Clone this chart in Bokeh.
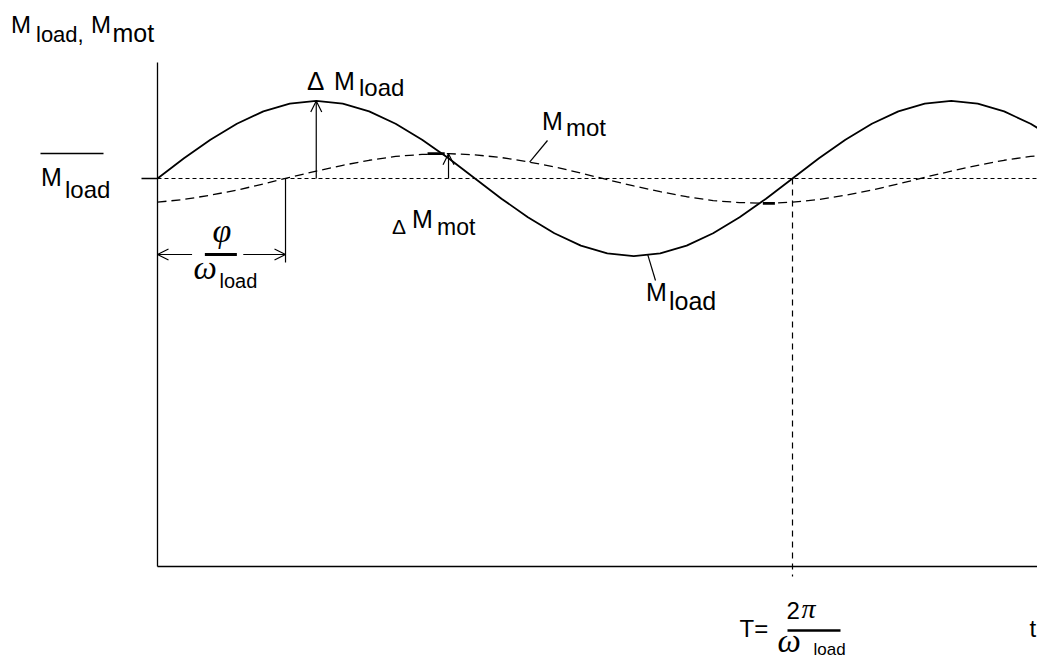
import numpy as np
from bokeh.plotting import figure
from bokeh.models import Range1d, Label, Arrow, OpenHead
from bokeh.embed import file_html
from bokeh.resources import INLINE

# ---------------- data ----------------
# time axis in units of the load period T = 2*pi/omega_load
t = [0.0, 0.0417, 0.0833, 0.125, 0.1667, 0.2083, 0.25, 0.2917, 0.3333, 0.375,
     0.4167, 0.4583, 0.5, 0.5417, 0.5833, 0.625, 0.6667, 0.7083, 0.75, 0.7917,
     0.8333, 0.875, 0.9167, 0.9583, 1.0, 1.0417, 1.0833, 1.125, 1.1667, 1.2083,
     1.25, 1.2917, 1.3333, 1.375, 1.4167]
# load torque (mean value = 1)
m_load = [1.000, 1.052, 1.100, 1.141, 1.173, 1.193, 1.200, 1.193, 1.173, 1.141,
          1.100, 1.052, 1.000, 0.948, 0.900, 0.859, 0.827, 0.807, 0.800, 0.807,
          0.827, 0.859, 0.900, 0.948, 1.000, 1.052, 1.100, 1.141, 1.173, 1.193,
          1.200, 1.193, 1.173, 1.141, 1.100]
# motor torque
m_mot = [0.939, 0.946, 0.957, 0.970, 0.986, 1.003, 1.019, 1.034, 1.047, 1.057,
         1.062, 1.064, 1.061, 1.054, 1.043, 1.030, 1.014, 0.997, 0.981, 0.966,
         0.953, 0.943, 0.938, 0.936, 0.939, 0.946, 0.957, 0.970, 0.986, 1.003,
         1.019, 1.034, 1.047, 1.057, 1.062]
m_mean = 1.0          # mean load torque
period = 1.0          # T
phase_lag = 0.2016    # phi / omega_load

# ---------------- layout ----------------
W, H = 1037, 662
X0, Y0 = 157, 566      # canvas position of the origin
XS, YS = 635.0, 388.0  # pixels per period / per unit torque
BASE_FIX = 0.38        # baseline correction (fraction of font size)


def X(px):
    return (px - X0) / XS


def Y(py):
    return (Y0 - py) / YS


p = figure(width=W, height=H, output_backend="svg", toolbar_location=None,
           x_range=Range1d(X(0), X(W)), y_range=Range1d(Y(H), Y(0)),
           x_axis_location=None, y_axis_location=None, min_border=0)
p.outline_line_color = None
p.grid.visible = False
p.background_fill_color = "white"
p.border_fill_color = "white"

x_end = X(W)
y_top = Y(62)

# axes
p.segment(x0=[0, 0, X(141)], y0=[0, 0, m_mean], x1=[0, x_end, 0], y1=[y_top, 0, m_mean],
          line_color="black", line_width=1.3)

# mean value line
p.segment(x0=[0], y0=[m_mean], x1=[x_end], y1=[m_mean], line_color="black",
          line_width=1.1, line_dash="4 3")

# curves
p.line(t, m_mot, line_color="black", line_width=1.3, line_dash="9 5")
p.line(t, m_load, line_color="black", line_width=1.8)

tt = np.array(t)
ml = np.array(m_load)
mm = np.array(m_mot)

# small bold strokes on M_mot near its extremes
i_max = int(np.argmax(mm[:24]))
i_min = int(np.argmin(mm[:26]))
p.segment(x0=[tt[i_max] - 0.033, tt[i_min] - 0.005], y0=[mm[i_max], mm[i_min]],
          x1=[tt[i_max] - 0.006, tt[i_min] + 0.014], y1=[mm[i_max], mm[i_min]],
          line_color="black", line_width=2.6)

# period line T
p.segment(x0=[period], y0=[m_mean], x1=[period], y1=[Y(576)], line_color="black",
          line_width=1.2, line_dash="6 5")

# Delta M_load arrow
i_pk = int(np.argmax(ml[:24]))
p.add_layout(Arrow(end=OpenHead(size=11, line_width=1.2, line_color="black"),
                   x_start=tt[i_pk], y_start=m_mean, x_end=tt[i_pk], y_end=ml[i_pk],
                   line_width=1.2, line_color="black"))
# Delta M_mot arrow
p.add_layout(Arrow(end=OpenHead(size=11, line_width=1.2, line_color="black"),
                   x_start=tt[i_max], y_start=m_mean, x_end=tt[i_max], y_end=mm[i_max],
                   line_width=1.2, line_color="black"))

# phi / omega dimension
y_dim = Y(254)
p.segment(x0=[phase_lag], y0=[m_mean], x1=[phase_lag], y1=[Y(262)],
          line_color="black", line_width=1.2)
p.add_layout(Arrow(start=OpenHead(size=11, line_width=1.2, line_color="black"), end=None,
                   x_start=0, y_start=y_dim, x_end=phase_lag * 0.27, y_end=y_dim,
                   line_width=1.2, line_color="black"))
p.add_layout(Arrow(end=OpenHead(size=11, line_width=1.2, line_color="black"), start=None,
                   x_start=phase_lag * 0.67, y_start=y_dim, x_end=phase_lag, y_end=y_dim,
                   line_width=1.2, line_color="black"))
p.segment(x0=[phase_lag * 0.37], y0=[y_dim], x1=[phase_lag * 0.62], y1=[y_dim],
          line_width=3, line_color="black")

# leader lines
t_lm = 0.586
p.segment(x0=[t_lm], y0=[float(np.interp(t_lm, tt, mm))], x1=[X(547)], y1=[Y(140)],
          line_color="black", line_width=1.2)
t_ll = 0.772
p.segment(x0=[t_ll], y0=[float(np.interp(t_ll, tt, ml))], x1=[X(655)], y1=[Y(280)],
          line_color="black", line_width=1.2)

# overbar of mean label and fraction bar of T
p.segment(x0=[X(40)], y0=[Y(153)], x1=[X(103)], y1=[Y(153)],
          line_width=1.3, line_color="black")
p.segment(x0=[X(787)], y0=[Y(630)], x1=[X(840)], y1=[Y(630)],
          line_width=2.4, line_color="black")

# ---------------- texts ----------------
SANS = "Liberation Sans"
SERIF = "Liberation Serif"
texts = [
    ("M", 10.5, 33, 24, SANS, "normal"),
    ("load,", 35.5, 42, 22, SANS, "normal"),
    ("M", 90.5, 33, 24, SANS, "normal"),
    ("mot", 112, 42, 25, SANS, "normal"),
    ("M", 40.5, 186, 25, SANS, "normal"),
    ("load", 64.5, 198, 24, SANS, "normal"),
    ("Δ", 306.5, 90, 26, SANS, "normal"),
    ("M", 333.5, 90, 25, SANS, "normal"),
    ("load", 358.5, 96, 24, SANS, "normal"),
    ("M", 541.5, 130, 25, SANS, "normal"),
    ("mot", 565.5, 136, 24, SANS, "normal"),
    ("Δ", 391.5, 234, 21, SANS, "normal"),
    ("M", 411.5, 228, 25, SANS, "normal"),
    ("mot", 436.5, 235, 23, SANS, "normal"),
    ("M", 645.5, 301, 25, SANS, "normal"),
    ("load", 668.5, 310, 25, SANS, "normal"),
    ("φ", 212, 243, 34, SERIF, "italic"),
    ("ω", 193, 280, 33, SERIF, "italic"),
    ("load", 219, 288, 20, SANS, "normal"),
    ("T=", 739, 637, 24, SANS, "normal"),
    ("2", 786, 619, 24, SANS, "normal"),
    ("π", 801, 619, 28, SERIF, "italic"),
    ("ω", 777, 653, 33, SERIF, "italic"),
    ("load", 813, 655, 17, SANS, "normal"),
    ("t", 1029, 637, 24, SANS, "normal"),
]
for txt, xp, yp, size, font, style in texts:
    p.add_layout(Label(x=X(xp), y=Y(yp - BASE_FIX * size), text=txt, text_font=font,
                       text_font_size=f"{size}px", text_font_style=style,
                       text_color="black", text_baseline="alphabetic",
                       text_align="left"))

open("out.html", "w").write(file_html(p, INLINE))
